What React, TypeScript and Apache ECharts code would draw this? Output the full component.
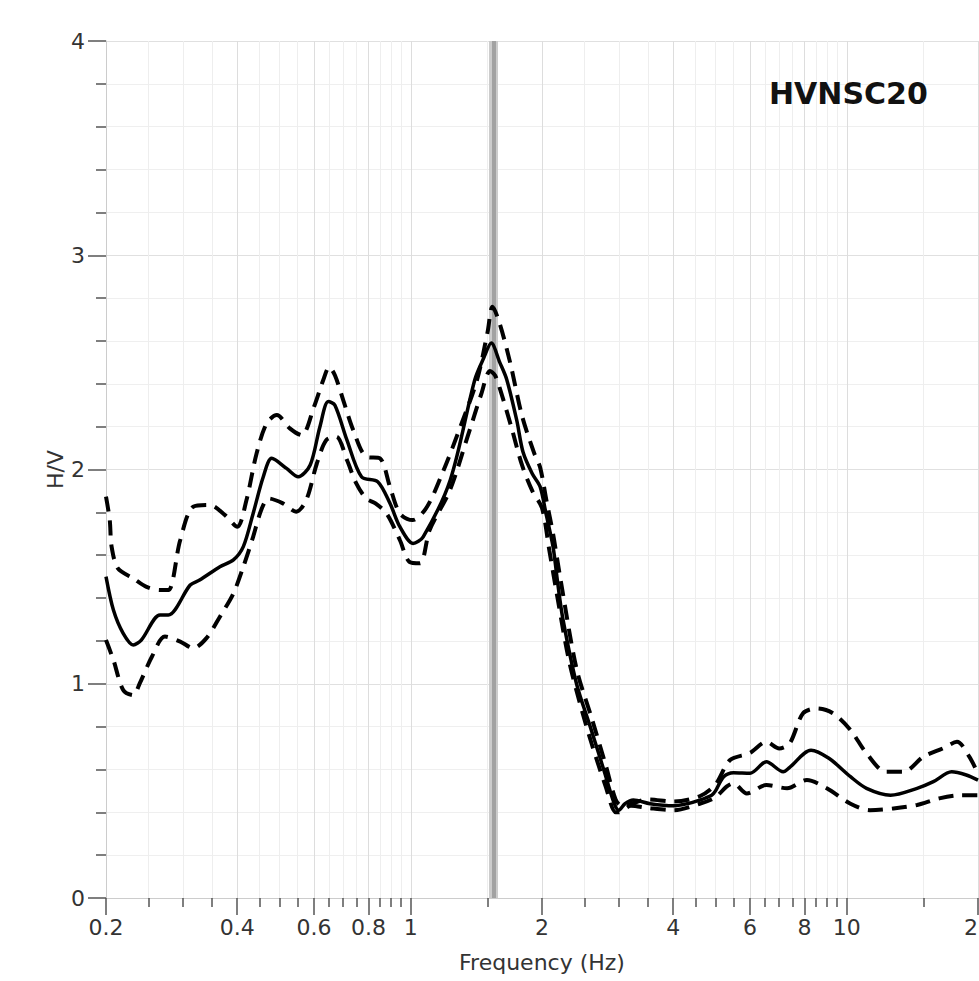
import React, { useEffect, useRef } from "react";
import * as echarts from "echarts";

// Tick positions (Hz)
const majorTickFreqs = [0.2, 0.4, 0.6, 0.8, 1, 2, 4, 6, 8, 10, 20];
const minorTickFreqs = [
  0.25, 0.3, 0.35, 0.45, 0.5, 0.55, 0.65, 0.7, 0.75, 0.85, 0.9, 0.95, 1.5,
  2.5, 3, 3.5, 4.5, 5, 5.5, 6.5, 7, 7.5, 8.5, 9, 9.5, 15,
];

// Peak frequency marker (Hz)
const peakFreq = 1.54;

// Mean H/V curve
const meanFreq = [
  0.2, 0.208, 0.219, 0.231, 0.241, 0.266, 0.278, 0.312, 0.328, 0.365, 0.392,
  0.413, 0.435, 0.459, 0.48, 0.519, 0.552, 0.588, 0.619, 0.647, 0.67, 0.714,
  0.771, 0.84, 0.896, 0.944, 1.012, 1.068, 1.232, 1.402, 1.47, 1.53, 1.6, 1.66,
  1.75, 1.81, 1.9, 1.98, 2.04, 2.12, 2.17, 2.23, 2.4, 2.58, 2.77, 2.93, 3.0,
  3.1, 3.24, 3.54, 4.0, 4.3, 4.6, 4.9, 5.0, 5.22, 5.5, 6.0, 6.54, 7.15, 7.4,
  8.28, 9.1, 10.2, 11.1, 12.6, 14.5, 15.8, 17.4, 18.8, 20,
];
const meanHV = [
  1.5, 1.344, 1.235, 1.181, 1.204, 1.321, 1.321, 1.461, 1.484, 1.546, 1.578,
  1.64, 1.795, 1.966, 2.052, 2.005, 1.966, 2.021, 2.2, 2.317, 2.3, 2.137,
  1.966, 1.943, 1.842, 1.733, 1.655, 1.686, 1.951, 2.418, 2.52, 2.59, 2.5, 2.42,
  2.23, 2.08, 1.98, 1.92, 1.8, 1.64, 1.48, 1.31, 1.0, 0.8, 0.6, 0.44, 0.41,
  0.44, 0.457, 0.44, 0.43, 0.44, 0.457, 0.48, 0.5, 0.566, 0.585, 0.582, 0.636,
  0.589, 0.61, 0.69, 0.652, 0.566, 0.512, 0.48, 0.512, 0.543, 0.589, 0.574,
  0.55,
];

// Mean + standard deviation
const upperFreq = [
  0.2, 0.204, 0.206, 0.213, 0.231, 0.247, 0.266, 0.278, 0.296, 0.317, 0.346,
  0.375, 0.4, 0.42, 0.443, 0.467, 0.493, 0.528, 0.562, 0.6, 0.63, 0.65, 0.67,
  0.7, 0.738, 0.79, 0.85, 0.896, 0.944, 1.01, 1.09, 1.19, 1.3, 1.42, 1.5, 1.54,
  1.6, 1.69, 1.8, 1.92, 1.98, 2.05, 2.12, 2.2, 2.4, 2.6, 2.8, 2.95, 3.05, 3.5,
  4.0, 4.6, 5.0, 5.4, 6.0, 6.54, 7.0, 7.4, 7.94, 8.56, 9.3, 10.2, 11.1, 12.3,
  13.5, 15, 16.6, 17.9, 19.1, 20,
];
const upperHV = [
  1.873, 1.764, 1.64, 1.538, 1.492, 1.453, 1.437, 1.437, 1.671, 1.826, 1.834,
  1.787, 1.733, 1.858, 2.075, 2.215, 2.254, 2.192, 2.16, 2.293, 2.418, 2.478,
  2.44, 2.324, 2.184, 2.06, 2.052, 1.919, 1.795, 1.764, 1.826, 1.998, 2.2, 2.42,
  2.64, 2.76, 2.68, 2.5, 2.25, 2.075, 2.01, 1.85, 1.7, 1.5, 1.07, 0.84, 0.62,
  0.46, 0.43, 0.46, 0.45, 0.475, 0.53, 0.644, 0.677, 0.729, 0.698, 0.722,
  0.862, 0.885, 0.862, 0.784, 0.675, 0.589, 0.589, 0.66, 0.698, 0.729, 0.66,
  0.58,
];

// Mean - standard deviation
const lowerFreq = [
  0.2, 0.208, 0.219, 0.231, 0.239, 0.255, 0.273, 0.296, 0.317, 0.34, 0.365,
  0.392, 0.413, 0.435, 0.454, 0.472, 0.509, 0.546, 0.576, 0.609, 0.64, 0.675,
  0.714, 0.75, 0.79, 0.83, 0.88, 0.944, 0.993, 1.05, 1.105, 1.23, 1.35, 1.45,
  1.52, 1.56, 1.6, 1.7, 1.8, 1.9, 2.0, 2.08, 2.15, 2.3, 2.45, 2.6, 2.8, 2.95,
  3.0, 3.2, 3.5, 4.0, 4.6, 5.0, 5.3, 5.5, 5.9, 6.54, 7.3, 8.1, 9.0, 10.2, 11.3,
  12.8, 14.5, 16.3, 18.3, 20,
];
const lowerHV = [
  1.204, 1.111, 0.971, 0.947, 1.002, 1.127, 1.22, 1.197, 1.166, 1.213, 1.313,
  1.422, 1.546, 1.686, 1.811, 1.865, 1.842, 1.803, 1.858, 2.028, 2.137, 2.153,
  2.044, 1.935, 1.865, 1.842, 1.795, 1.671, 1.569, 1.562, 1.718, 1.904, 2.153,
  2.35, 2.46, 2.44, 2.38, 2.2, 2.02, 1.9, 1.82, 1.62, 1.45, 1.12, 0.9, 0.72,
  0.52, 0.4, 0.4, 0.43, 0.42, 0.41, 0.44, 0.47, 0.52, 0.535, 0.488, 0.527,
  0.512, 0.551, 0.512, 0.44, 0.41, 0.418, 0.434, 0.465, 0.48, 0.48,
];

const stationName = "HVNSC20";
const xName = "Frequency (Hz)";
const yName = "H/V";

const lg = (f: number) => Math.log10(f);
const toPairs = (fs: number[], vs: number[]) =>
  fs.map((f, i) => [lg(f), vs[i]]);
const fmtFreq = (v: number) => String(Math.round(Math.pow(10, v) * 100) / 100);

export default function App() {
  const ref = useRef<HTMLDivElement>(null);

  useEffect(() => {
    if (!ref.current) return;
    const chart = echarts.init(ref.current, null, { renderer: "svg" });
    const font = "DejaVu Sans";
    const xMin = lg(0.2);
    const xMax = lg(20);
    const tickStyle = { color: "#555555", width: 1.5 };

    chart.setOption({
      animation: false,
      backgroundColor: "#ffffff",
      title: {
        text: stationName,
        left: 769,
        top: 78,
        padding: 0,
        textStyle: {
          fontFamily: font,
          fontSize: 30,
          fontWeight: "bold",
          color: "#111111",
        },
      },
      grid: {
        left: 106,
        top: 41,
        right: 1,
        bottom: 83,
        containLabel: false,
        outerBoundsMode: "none",
      },
      xAxis: [
        {
          type: "value",
          min: xMin,
          max: xMax,
          position: "bottom",
          name: xName,
          nameLocation: "middle",
          nameGap: 53,
          nameTextStyle: { fontFamily: font, fontSize: 22, color: "#333333" },
          axisLine: { show: true, onZero: false, lineStyle: { color: "#cccccc", width: 1 } },
          axisTick: {
            show: true,
            customValues: majorTickFreqs.map(lg),
            length: 17,
            lineStyle: tickStyle,
          },
          axisLabel: {
            show: true,
            customValues: majorTickFreqs.map(lg),
            formatter: (v: number) => fmtFreq(v),
            margin: 18,
            fontFamily: font,
            fontSize: 22,
            color: "#333333",
          },
          splitLine: { show: true, lineStyle: { color: "#dddddd", width: 1 } },
        },
        {
          type: "value",
          min: xMin,
          max: xMax,
          position: "bottom",
          offset: 0,
          axisLine: { show: false, onZero: false },
          axisTick: {
            show: true,
            customValues: minorTickFreqs.map(lg),
            length: 9,
            lineStyle: tickStyle,
          },
          axisLabel: { show: false },
          splitLine: { show: true, lineStyle: { color: "#eeeeee", width: 1 } },
        },
      ],
      yAxis: {
        type: "value",
        min: 0,
        max: 4,
        interval: 1,
        name: yName,
        nameLocation: "middle",
        nameGap: 40,
        nameMoveOverlap: false,
        nameTextStyle: { fontFamily: font, fontSize: 22, color: "#333333" },
        axisLine: { show: true, onZero: false, lineStyle: { color: "#cccccc", width: 1 } },
        axisTick: { show: true, length: 18, lineStyle: tickStyle },
        minorTick: { show: true, splitNumber: 5, length: 10, lineStyle: tickStyle },
        axisLabel: { margin: 21, fontFamily: font, fontSize: 22, color: "#333333" },
        splitLine: { show: true, lineStyle: { color: "#e0e0e0", width: 1 } },
        minorSplitLine: { show: true, lineStyle: { color: "#efefef", width: 1 } },
      },
      series: [
        {
          type: "line",
          xAxisIndex: 0,
          data: [],
          z: 1,
          markLine: {
            silent: true,
            z: 1,
            symbol: ["none", "none"],
            label: { show: false },
            data: [
              { xAxis: lg(peakFreq), lineStyle: { color: "#cccccc", width: 9, type: "solid" } },
              { xAxis: lg(peakFreq), lineStyle: { color: "#a2a2a2", width: 4, type: "solid" } },
            ],
          },
        },
        {
          name: "mean",
          type: "line",
          xAxisIndex: 0,
          data: toPairs(meanFreq, meanHV),
          symbol: "none",
          smooth: 0.3,
          z: 3,
          lineStyle: { color: "#000000", width: 3.5 },
        },
        {
          name: "mean+std",
          type: "line",
          xAxisIndex: 0,
          data: toPairs(upperFreq, upperHV),
          symbol: "none",
          smooth: 0.3,
          z: 3,
          lineStyle: { color: "#000000", width: 4, type: [15, 9] },
        },
        {
          name: "mean-std",
          type: "line",
          xAxisIndex: 0,
          data: toPairs(lowerFreq, lowerHV),
          symbol: "none",
          smooth: 0.3,
          z: 3,
          lineStyle: { color: "#000000", width: 4, type: [15, 9] },
        },
      ],
    });

    return () => chart.dispose();
  }, []);

  return (
    <div
      ref={ref}
      style={{ position: "fixed", left: 0, top: 0, width: 979, height: 981 }}
    />
  );
}
